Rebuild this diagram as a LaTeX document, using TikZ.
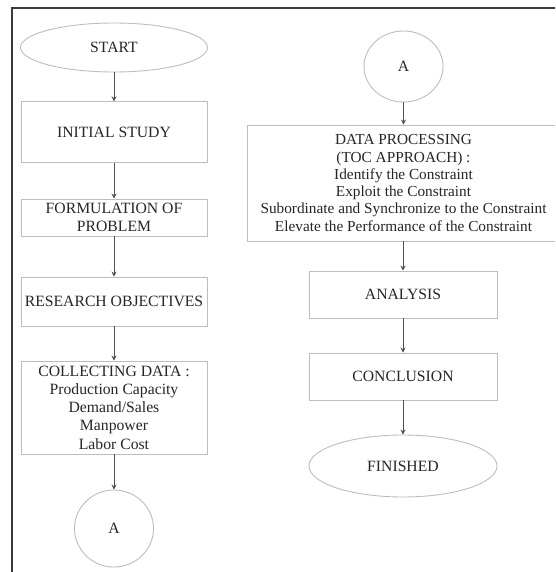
\documentclass[tikz,border=0pt]{standalone}
\usepackage{fontspec}
\setmainfont{Liberation Serif}
\usetikzlibrary{shapes.geometric,arrows.meta}
\definecolor{boxline}{HTML}{BDBDBD}
\definecolor{arrowline}{HTML}{505050}
\definecolor{txt}{HTML}{262626}
\definecolor{frameline}{HTML}{3A3A3A}
\tikzset{
  procbox/.style={draw=boxline, line width=0.9pt, rectangle, inner sep=0pt, align=center, text=txt,
    font=\fontsize{15.7}{18.3}\selectfont},
  termell/.style={draw=boxline, line width=0.9pt, ellipse, inner sep=0pt, align=center, text=txt,
    font=\fontsize{15.7}{18.3}\selectfont},
  flowarrow/.style={draw=arrowline, line width=1pt, -{Stealth[length=5pt,width=5pt]}},
}
\begin{document}
\begin{tikzpicture}[x=1pt,y=-1pt]
\clip (0,0) rectangle (555,572);
\useasboundingbox (0,0) rectangle (555,572);
\fill[white] (0,0) rectangle (555,572);
% outer frame (top and left only)
\coordinate (ftl) at (12,8);
\coordinate (ftr) at (556,8);
\coordinate (fbl) at (12,573);
\draw[frameline, line width=1.8pt] (ftr) -- (ftl) -- (fbl);
% left column
\node[termell, minimum width=187pt, minimum height=49pt] (start) at (114,47.5) {START};
\node[procbox, minimum width=186pt, minimum height=61pt] (init) at (114,132.3) {INITIAL STUDY};
\node[procbox, minimum width=186pt, minimum height=37pt] (form) at (114,217.5) {FORMULATION OF\\PROBLEM};
\node[procbox, minimum width=186pt, minimum height=49pt] (resobj) at (114,301.5) {RESEARCH OBJECTIVES};
\node[procbox, minimum width=186pt, minimum height=93pt] (collect) at (114,407.5) {COLLECTING DATA :\\Production Capacity\\Demand/Sales\\Manpower\\Labor Cost};
\node[termell, minimum width=79pt, minimum height=77pt] (conA) at (114,528.5) {A};
% right column
\node[termell, minimum width=79pt, minimum height=71pt] (conB) at (403.5,66.5) {A};
\node[procbox, minimum width=313pt, minimum height=116pt, font=\fontsize{15.3}{17.3}\selectfont] (proc) at (403.5,183) {DATA PROCESSING\\(TOC APPROACH) :\\Identify the Constraint\\Exploit the Constraint\\Subordinate and Synchronize to the Constraint\\Elevate the Performance of the Constraint};
\node[procbox, minimum width=188pt, minimum height=47pt] (anal) at (403,294.5) {ANALYSIS};
\node[procbox, minimum width=188pt, minimum height=47pt] (concl) at (403,376.5) {CONCLUSION};
\node[termell, minimum width=188pt, minimum height=62pt] (fin) at (403,466) {FINISHED};
% connectors
\draw[flowarrow] (start) -- (init);
\draw[flowarrow] (init) -- (form);
\draw[flowarrow] (form) -- (resobj);
\draw[flowarrow] (resobj) -- (collect);
\draw[flowarrow] (collect) -- (conA);
\draw[flowarrow] (conB) -- (proc.north -| conB);
\draw[flowarrow] (proc.south -| anal) -- (anal);
\draw[flowarrow] (anal) -- (concl);
\draw[flowarrow] (concl) -- (fin);
\end{tikzpicture}
\end{document}
